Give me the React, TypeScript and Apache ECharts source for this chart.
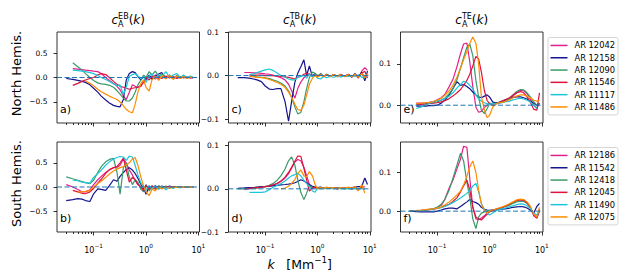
import React, { useEffect, useRef } from 'react';
import * as echarts from 'echarts';

// ---- data -----------------------------------------------------------------
const K = [0.03, 0.04, 0.05, 0.06, 0.07, 0.085, 0.1, 0.12, 0.14, 0.17, 0.2, 0.24, 0.28, 0.32, 0.37, 0.42, 0.48, 0.55, 0.62, 0.7, 0.8, 0.9, 1.0, 1.15, 1.3, 1.5, 1.75, 2.0, 2.4, 2.8, 3.3, 3.9, 4.5, 5.2, 6.0, 7.0, 8.0, 9.0];

const NORTH_NAMES = ['AR 12042', 'AR 12158', 'AR 12090', 'AR 11546', 'AR 11117', 'AR 11486'];
const SOUTH_NAMES = ['AR 12186', 'AR 11542', 'AR 12418', 'AR 12045', 'AR 11490', 'AR 12075'];
const COLORS = ['#e0218a', '#14148c', '#3a9a6a', '#dc143c', '#1cc6d8', '#ff8c00'];
const ZERO_COLOR = '#1f77b4';
const ZERO_LEVEL = 0;

const YTICKS_EB = [-0.5, 0, 0.5];
const YTICKS_TB = [-0.1, 0, 0.1];
const YTICKS_TE = [0, 0.1];
const XTICKS_MAJOR = [0.1, 1, 10];
const XTICKS_MINOR_MULT = [2, 3, 4, 5, 6, 7, 8, 9];

// EB, north (a)
const EB_N_12042 = [null, 0.18, 0.17, 0.16, 0.15, 0.14, 0.13, 0.12, 0.08, 0.0, -0.06, -0.12, -0.18, -0.25, -0.38, -0.45, -0.3, -0.15, -0.18, -0.2, -0.16, -0.1, -0.05, 0.03, -0.04, 0.05, -0.02, 0.03, -0.01, 0.02, -0.02, 0.01, 0.02, -0.01, 0.01, -0.01, 0.0, null];
const EB_N_12158 = [-0.02, -0.04, -0.06, -0.08, -0.1, -0.15, -0.22, -0.3, -0.38, -0.46, -0.52, -0.57, -0.59, -0.6, -0.45, -0.05, 0.08, 0.12, 0.1, 0.02, -0.05, 0.02, -0.04, 0.05, -0.03, 0.03, 0.07, 0.1, -0.02, 0.03, -0.02, 0.02, -0.01, 0.02, -0.01, 0.01, -0.01, null];
const EB_N_12090 = [null, 0.3, 0.22, 0.15, 0.08, 0.0, -0.06, -0.11, -0.13, -0.14, -0.16, -0.2, -0.27, -0.34, -0.42, -0.48, -0.48, -0.42, -0.3, -0.15, -0.05, 0.05, 0.0, 0.12, 0.05, 0.13, 0.02, 0.08, 0.0, 0.05, -0.02, 0.04, 0.0, 0.03, -0.01, 0.02, 0.0, null];
const EB_N_11546 = [null, -0.16, -0.12, -0.08, -0.05, -0.02, 0.0, 0.05, 0.08, 0.06, 0.0, -0.08, -0.14, -0.18, -0.2, -0.22, -0.24, -0.22, -0.21, -0.2, -0.18, -0.08, 0.0, -0.05, 0.03, -0.03, 0.02, -0.02, 0.03, -0.01, 0.02, -0.02, 0.01, 0.0, 0.01, -0.01, 0.0, null];
const EB_N_11117 = [null, 0.15, 0.14, 0.13, 0.12, 0.1, 0.08, 0.04, 0.0, -0.04, -0.08, -0.13, -0.17, -0.15, -0.35, -0.2, 0.02, 0.06, 0.08, 0.03, -0.02, 0.02, -0.1, 0.03, 0.08, -0.02, 0.05, 0.02, 0.12, 0.0, 0.05, 0.08, 0.0, 0.05, 0.0, 0.03, 0.0, null];
const EB_N_11486 = [null, null, null, null, -0.07, -0.12, -0.17, -0.24, -0.29, -0.34, -0.38, -0.42, -0.45, -0.5, -0.58, -0.65, -0.7, -0.72, -0.55, -0.3, -0.12, -0.05, -0.2, -0.28, -0.05, 0.02, -0.06, 0.04, -0.03, 0.05, -0.04, 0.03, -0.02, 0.02, -0.02, 0.01, 0.0, null];

// EB, south (b)
const EB_S_12186 = [0.05, 0.0, -0.05, -0.1, -0.1, -0.06, 0.05, 0.15, 0.22, 0.3, 0.35, 0.4, 0.41, 0.45, 0.58, 0.5, 0.35, 0.25, 0.14, 0.05, 0.0, -0.05, 0.02, -0.03, 0.02, -0.02, 0.01, 0.0, 0.01, -0.01, 0.0, 0.01, 0.0, 0.0, 0.0, 0.0, 0.0, null];
const EB_S_11542 = [-0.28, -0.26, -0.24, -0.25, -0.28, -0.3, -0.14, -0.04, -0.05, -0.07, 0.03, 0.15, 0.12, 0.22, 0.3, 0.36, 0.4, 0.35, 0.28, 0.18, 0.05, -0.02, -0.15, 0.02, -0.05, 0.03, -0.04, 0.02, -0.02, 0.02, -0.01, 0.01, 0.0, 0.01, -0.01, 0.01, 0.0, null];
const EB_S_12418 = [0.21, 0.17, 0.14, 0.11, 0.09, 0.07, 0.14, 0.3, 0.42, 0.52, 0.57, 0.59, 0.3, -0.15, 0.4, 0.5, 0.2, 0.05, 0.15, 0.1, -0.05, -0.1, 0.05, -0.08, 0.02, -0.05, 0.03, -0.03, 0.02, -0.02, 0.01, -0.01, 0.01, 0.0, 0.0, 0.0, 0.0, null];
const EB_S_12045 = [null, -0.07, -0.1, -0.13, -0.14, -0.1, -0.03, 0.08, 0.16, 0.28, 0.36, 0.4, 0.42, 0.5, 0.6, 0.35, 0.1, 0.2, 0.15, 0.05, 0.0, -0.08, 0.04, -0.05, 0.02, -0.03, 0.01, -0.02, 0.01, 0.0, 0.01, 0.0, 0.0, 0.0, 0.0, 0.0, 0.0, null];
const EB_S_11490 = [null, 0.14, 0.13, 0.1, 0.09, 0.08, 0.2, 0.28, 0.35, 0.45, 0.52, 0.58, 0.61, 0.63, 0.62, 0.55, 0.64, 0.62, 0.45, 0.25, 0.08, 0.0, -0.06, 0.03, -0.04, 0.02, -0.05, 0.01, -0.06, 0.0, -0.03, 0.01, -0.02, 0.01, 0.0, 0.0, 0.0, null];
const EB_S_12075 = [null, null, -0.1, -0.1, -0.09, -0.07, 0.0, 0.07, 0.12, 0.2, 0.27, 0.33, 0.37, 0.4, 0.42, 0.46, 0.5, 0.58, 0.61, 0.45, 0.2, 0.02, -0.1, -0.18, -0.04, -0.08, 0.0, -0.04, 0.0, -0.03, 0.0, -0.01, 0.0, 0.0, 0.0, 0.0, 0.0, null];

// TB, north (c)
const TB_N_12042 = [null, 0.007, 0.007, 0.006, 0.006, 0.005, 0.004, 0.003, 0.001, -0.002, -0.005, -0.01, -0.02, -0.035, -0.052, -0.03, -0.015, -0.005, 0.0, 0.004, 0.0, 0.002, -0.002, 0.002, -0.002, 0.002, -0.002, 0.002, -0.002, 0.003, -0.003, 0.003, -0.004, 0.004, -0.006, 0.01, 0.018, 0.012];
const TB_N_12158 = [-0.005, -0.005, -0.006, -0.008, -0.01, -0.014, -0.024, -0.031, -0.032, -0.03, -0.03, -0.06, -0.105, -0.06, -0.015, 0.005, 0.02, 0.036, 0.0, 0.022, -0.003, 0.005, -0.003, 0.004, -0.002, 0.003, -0.002, 0.002, -0.002, 0.002, -0.002, 0.002, -0.003, 0.004, -0.004, 0.008, -0.012, 0.01];
const TB_N_12090 = [null, null, null, -0.002, -0.003, -0.004, -0.005, -0.007, -0.01, -0.013, -0.017, -0.024, -0.035, -0.05, -0.072, -0.088, -0.085, -0.06, -0.03, -0.005, 0.008, 0.005, 0.0, 0.003, -0.002, 0.002, -0.002, 0.002, -0.001, 0.002, -0.002, 0.002, -0.002, 0.002, -0.003, 0.004, -0.004, null];
const TB_N_11546 = [null, null, 0.001, 0.001, 0.001, 0.001, 0.0, 0.0, 0.0, -0.001, -0.002, -0.003, -0.004, -0.006, -0.008, -0.004, -0.002, 0.003, 0.005, 0.002, 0.0, 0.001, -0.001, 0.001, -0.001, 0.001, -0.001, 0.001, -0.001, 0.001, -0.002, 0.002, -0.002, 0.003, -0.004, 0.005, 0.01, -0.006];
const TB_N_11117 = [null, null, 0.002, 0.004, 0.007, 0.01, 0.013, 0.015, 0.012, 0.006, 0.0, -0.004, -0.008, -0.01, -0.01, -0.004, -0.002, 0.0, -0.006, 0.004, -0.003, 0.002, -0.006, -0.008, -0.002, -0.005, -0.002, -0.004, -0.002, -0.003, -0.001, -0.002, 0.0, -0.002, 0.002, -0.004, -0.006, null];
const TB_N_11486 = [null, null, -0.002, -0.003, -0.004, -0.005, -0.006, -0.009, -0.012, -0.016, -0.02, -0.027, -0.038, -0.05, -0.066, -0.078, -0.08, -0.068, -0.045, -0.02, -0.006, 0.0, -0.004, 0.002, -0.003, 0.002, -0.002, 0.002, -0.002, 0.002, -0.002, 0.002, -0.002, 0.003, -0.004, 0.005, -0.005, 0.004];

// TB, south (d)
const TB_S_12186 = [null, 0.0, 0.001, 0.002, 0.003, 0.004, 0.005, 0.006, 0.008, 0.012, 0.017, 0.025, 0.035, 0.048, 0.062, 0.068, 0.065, 0.05, 0.03, 0.01, 0.0, 0.003, 0.001, 0.002, 0.001, 0.002, 0.001, 0.002, 0.001, 0.002, 0.001, 0.002, 0.0, 0.002, 0.0, 0.003, 0.005, null];
const TB_S_11542 = [0.001, 0.002, 0.003, 0.003, 0.004, 0.005, 0.005, 0.006, 0.007, 0.008, 0.009, 0.01, 0.011, 0.012, 0.014, 0.017, 0.021, 0.018, 0.014, 0.01, 0.006, 0.004, 0.003, 0.004, 0.002, 0.003, 0.002, 0.003, 0.002, 0.003, 0.002, 0.003, 0.003, 0.004, 0.005, 0.006, 0.025, 0.01];
const TB_S_12418 = [0.0, 0.0, 0.0, 0.001, 0.002, 0.003, 0.005, 0.008, 0.012, 0.02, 0.03, 0.046, 0.065, 0.074, 0.055, 0.02, -0.008, -0.025, -0.01, 0.008, 0.002, 0.004, 0.001, 0.003, 0.0, 0.002, 0.001, 0.002, 0.0, 0.002, 0.0, 0.002, 0.0, 0.002, -0.001, 0.003, 0.0, null];
const TB_S_12045 = [null, 0.0, 0.001, 0.002, 0.003, 0.004, 0.005, 0.007, 0.009, 0.013, 0.018, 0.027, 0.038, 0.05, 0.064, 0.076, 0.075, 0.048, 0.02, -0.005, 0.002, 0.004, 0.001, 0.003, 0.001, 0.002, 0.001, 0.002, 0.0, 0.002, 0.001, 0.002, 0.0, 0.002, 0.0, 0.002, 0.0, null];
const TB_S_11490 = [null, null, -0.008, -0.008, -0.008, -0.008, -0.007, -0.002, 0.003, 0.008, 0.012, 0.018, 0.025, 0.03, 0.033, 0.036, 0.03, 0.02, 0.012, 0.005, -0.005, -0.008, 0.002, 0.0, 0.002, 0.001, 0.002, 0.0, 0.002, 0.0, 0.001, 0.0, 0.001, 0.0, 0.001, 0.0, 0.0, null];
const TB_S_12075 = [null, null, null, null, null, null, null, null, null, null, 0.0, 0.002, 0.006, 0.012, 0.022, 0.035, 0.044, 0.03, 0.028, 0.04, 0.03, 0.01, 0.0, 0.003, 0.001, 0.004, 0.002, 0.003, 0.001, 0.003, 0.002, 0.004, 0.002, 0.005, -0.005, 0.01, -0.01, null];

// TE, north (e)
const TE_N_12042 = [null, 0.005, 0.005, 0.006, 0.007, 0.009, 0.013, 0.018, 0.026, 0.045, 0.062, 0.094, 0.125, 0.148, 0.15, 0.105, 0.045, -0.005, -0.017, -0.015, -0.005, 0.0, 0.005, 0.003, 0.005, 0.004, 0.008, 0.01, 0.015, 0.022, 0.03, 0.036, 0.035, 0.028, 0.015, 0.0, -0.008, 0.005];
const TE_N_12158 = [null, -0.002, -0.002, -0.002, -0.001, -0.001, 0.0, 0.005, 0.012, 0.025, 0.04, 0.057, 0.048, 0.05, 0.045, 0.04, 0.032, 0.025, 0.02, 0.018, 0.022, 0.025, 0.02, 0.008, 0.005, 0.007, 0.01, 0.013, 0.016, 0.019, 0.02, 0.02, 0.018, 0.015, 0.01, 0.005, 0.0, 0.004];
const TE_N_12090 = [null, null, 0.003, 0.004, 0.005, 0.006, 0.008, 0.012, 0.017, 0.028, 0.04, 0.062, 0.09, 0.115, 0.14, 0.148, 0.12, 0.06, 0.02, -0.012, -0.02, -0.008, 0.003, 0.005, 0.004, 0.006, 0.008, 0.01, 0.016, 0.025, 0.033, 0.038, 0.037, 0.03, 0.02, 0.008, 0.0, 0.005];
const TE_N_11546 = [null, 0.002, 0.002, 0.003, 0.004, 0.005, 0.006, 0.008, 0.011, 0.016, 0.022, 0.03, 0.038, 0.048, 0.06, 0.075, 0.095, 0.118, 0.112, 0.08, 0.035, 0.012, 0.003, 0.0, 0.003, 0.006, 0.01, 0.013, 0.018, 0.024, 0.03, 0.033, 0.03, 0.02, 0.008, -0.01, -0.012, 0.03];
const TE_N_11117 = [null, -0.008, -0.004, 0.0, 0.004, 0.008, 0.011, 0.013, 0.016, 0.022, 0.03, 0.042, 0.05, 0.058, 0.055, 0.048, 0.04, 0.025, 0.015, 0.01, 0.006, 0.004, 0.002, 0.004, 0.003, 0.005, 0.006, 0.008, 0.01, 0.013, 0.015, 0.017, 0.015, 0.012, 0.008, 0.0, -0.008, null];
const TE_N_11486 = [null, 0.004, 0.005, 0.006, 0.007, 0.009, 0.012, 0.017, 0.024, 0.035, 0.048, 0.068, 0.09, 0.11, 0.13, 0.15, 0.165, 0.15, 0.1, 0.02, -0.012, -0.03, -0.025, -0.005, 0.002, 0.006, 0.007, 0.009, 0.013, 0.018, 0.022, 0.025, 0.025, 0.022, 0.018, 0.012, 0.01, 0.012];

// TE, south (f)
const TE_S_12186 = [0.0, 0.001, 0.002, 0.003, 0.004, 0.006, 0.009, 0.015, 0.03, 0.06, 0.08, 0.11, 0.135, 0.168, 0.165, 0.085, 0.01, -0.02, -0.022, -0.018, -0.012, -0.005, 0.0, 0.002, 0.004, 0.006, 0.009, 0.012, 0.017, 0.022, 0.027, 0.03, 0.029, 0.022, 0.01, -0.012, -0.018, 0.005];
const TE_S_11542 = [0.0, -0.001, -0.002, -0.002, -0.002, -0.002, 0.0, 0.003, 0.006, 0.008, 0.008, 0.006, 0.012, 0.018, 0.024, 0.03, 0.025, 0.022, 0.018, 0.01, 0.005, 0.003, 0.002, 0.003, 0.003, 0.004, 0.005, 0.006, 0.008, 0.01, 0.011, 0.012, 0.011, 0.008, 0.003, -0.005, 0.012, 0.02];
const TE_S_12418 = [0.0, 0.001, 0.002, 0.003, 0.004, 0.006, 0.01, 0.018, 0.03, 0.055, 0.085, 0.12, 0.15, 0.13, 0.075, 0.035, -0.02, -0.045, -0.015, -0.005, -0.002, 0.0, 0.002, 0.003, 0.005, 0.007, 0.01, 0.012, 0.015, 0.02, 0.024, 0.026, 0.025, 0.02, 0.01, -0.008, -0.015, 0.0];
const TE_S_12045 = [null, 0.001, 0.002, 0.003, 0.004, 0.005, 0.007, 0.01, 0.013, 0.018, 0.025, 0.035, 0.05, 0.065, 0.08, 0.055, 0.01, -0.015, -0.02, -0.023, -0.015, -0.008, -0.002, 0.002, 0.005, 0.007, 0.01, 0.013, 0.018, 0.023, 0.028, 0.03, 0.028, 0.022, 0.01, -0.01, -0.018, 0.0];
const TE_S_11490 = [null, 0.001, 0.002, 0.003, 0.004, 0.005, 0.007, 0.009, 0.012, 0.017, 0.022, 0.028, 0.034, 0.04, 0.046, 0.054, 0.065, 0.072, 0.05, 0.02, 0.005, -0.005, -0.01, -0.005, 0.0, 0.004, 0.006, 0.008, 0.011, 0.014, 0.017, 0.019, 0.018, 0.014, 0.007, -0.005, -0.01, 0.0];
const TE_S_12075 = [null, 0.002, 0.003, 0.004, 0.005, 0.006, 0.008, 0.011, 0.016, 0.024, 0.032, 0.042, 0.052, 0.068, 0.09, 0.115, 0.13, 0.1, 0.055, 0.018, 0.002, -0.005, 0.0, 0.003, 0.005, 0.008, 0.011, 0.014, 0.019, 0.024, 0.029, 0.031, 0.03, 0.024, 0.013, -0.008, -0.015, 0.01];

// ---- layout ---------------------------------------------------------------
const FONT = 'DejaVu Sans';
const XMIN = 0.02;
const XMAX = 10.5;
const GRID_LEFT = [57, 228.5, 400.5];
const GRID_W = 142.5;
const ROW_TOP = [32, 142];
const ROW_H = [91, 90];

const PANELS = [
  { tag: 'a)', row: 0, col: 0, names: NORTH_NAMES, data: [EB_N_12042, EB_N_12158, EB_N_12090, EB_N_11546, EB_N_11117, EB_N_11486], ymin: -0.93, ymax: 0.93, yticks: YTICKS_EB },
  { tag: 'c)', row: 0, col: 1, names: NORTH_NAMES, data: [TB_N_12042, TB_N_12158, TB_N_12090, TB_N_11546, TB_N_11117, TB_N_11486], ymin: -0.109, ymax: 0.1, yticks: YTICKS_TB },
  { tag: 'e)', row: 0, col: 2, names: NORTH_NAMES, data: [TE_N_12042, TE_N_12158, TE_N_12090, TE_N_11546, TE_N_11117, TE_N_11486], ymin: -0.043, ymax: 0.177, yticks: YTICKS_TE },
  { tag: 'b)', row: 1, col: 0, names: SOUTH_NAMES, data: [EB_S_12186, EB_S_11542, EB_S_12418, EB_S_12045, EB_S_11490, EB_S_12075], ymin: -0.93, ymax: 0.93, yticks: YTICKS_EB },
  { tag: 'd)', row: 1, col: 1, names: SOUTH_NAMES, data: [TB_S_12186, TB_S_11542, TB_S_12418, TB_S_12045, TB_S_11490, TB_S_12075], ymin: -0.1, ymax: 0.1085, yticks: YTICKS_TB },
  { tag: 'f)', row: 1, col: 2, names: SOUTH_NAMES, data: [TE_S_12186, TE_S_11542, TE_S_12418, TE_S_12045, TE_S_11490, TE_S_12075], ymin: -0.054, ymax: 0.179, yticks: YTICKS_TE },
];

const MINUS = '\u2212';
const fmtY = (v: number) => (Math.abs(v) < 1e-9 ? '0.0' : (v < 0 ? MINUS : '') + Math.abs(v).toFixed(1));

type Piece = { t: string; s: number; i?: boolean; dy?: number };
type Part = Piece | { gap: number } | { stack: Piece[] };

function buildMath(parts: Part[], cx: number, base: number) {
  const ctx = document.createElement('canvas').getContext('2d') as CanvasRenderingContext2D;
  const measure = (p: Piece) => {
    ctx.font = `${p.i ? 'italic ' : ''}${p.s}px "${FONT}"`;
    return ctx.measureText(p.t).width;
  };
  const widths = parts.map((p: any) => ('gap' in p ? p.gap : 'stack' in p ? Math.max(...p.stack.map(measure)) : measure(p)));
  const total = widths.reduce((a, b) => a + b, 0);
  let x = cx - total / 2;
  const els: any[] = [];
  parts.forEach((p: any, idx) => {
    const items: Piece[] = 'gap' in p ? [] : 'stack' in p ? p.stack : [p];
    items.forEach((q) => {
      els.push({
        type: 'text',
        silent: true,
        x,
        y: base + (q.dy || 0) - 0.35 * q.s,
        style: {
          text: q.t,
          fontSize: q.s,
          fontFamily: FONT,
          fontStyle: q.i ? 'italic' : 'normal',
          fill: '#000',
          align: 'left',
          verticalAlign: 'middle',
        },
      });
    });
    x += widths[idx];
  });
  return els;
}

function buildOption() {
  const lxmin = Math.log10(XMIN);
  const lxmax = Math.log10(XMAX);
  const majorLog = XTICKS_MAJOR.map((v) => Math.log10(v));
  const minorLog: number[] = [];
  [-2, -1, 0].forEach((d) => XTICKS_MINOR_MULT.forEach((m) => {
    const lv = Math.log10(m * Math.pow(10, d));
    if (lv > lxmin && lv < lxmax) minorLog.push(lv);
  }));

  const grid: any[] = [];
  const xAxis: any[] = [];
  const yAxis: any[] = [];
  const series: any[] = [];
  const graphic: any[] = [];
  const tickLine = { color: '#000', width: 0.8 };

  PANELS.forEach((p, i) => {
    const left = GRID_LEFT[p.col];
    const top = ROW_TOP[p.row];
    const h = ROW_H[p.row];
    grid.push({ left, top, width: GRID_W, height: h, show: true, borderColor: '#000', borderWidth: 0.8, backgroundColor: 'transparent', containLabel: false });

    xAxis.push({ type: 'log', logBase: 10, gridIndex: i, min: XMIN, max: XMAX, show: false });
    xAxis.push({
      type: 'value', gridIndex: i, min: lxmin, max: lxmax, position: 'bottom',
      axisLine: { show: false, onZero: false }, splitLine: { show: false },
      axisTick: { show: true, customValues: majorLog, length: 3.5, lineStyle: tickLine },
      axisLabel: {
        show: p.row === 1, customValues: majorLog, margin: 11,
        formatter: (v: number) => {
          const e = Math.round(v);
          return `{b|10}{s|${e < 0 ? MINUS : ''}${Math.abs(e)}}`;
        },
        rich: {
          b: { fontSize: 8, fontFamily: FONT, color: '#000', lineHeight: 11, verticalAlign: 'bottom' },
          s: { fontSize: 5.8, fontFamily: FONT, color: '#000', lineHeight: 5, verticalAlign: 'top' },
        },
      },
    });
    xAxis.push({
      type: 'value', gridIndex: i, min: lxmin, max: lxmax, position: 'bottom',
      axisLine: { show: false, onZero: false }, splitLine: { show: false },
      axisTick: { show: true, customValues: minorLog, length: 2, lineStyle: tickLine },
      axisLabel: { show: false },
    });

    yAxis.push({
      type: 'value', gridIndex: i, min: p.ymin, max: p.ymax,
      axisLine: { show: false, onZero: false }, splitLine: { show: false },
      axisTick: { show: true, customValues: p.yticks, length: 3.5, lineStyle: tickLine },
      axisLabel: { customValues: p.yticks, formatter: fmtY, fontSize: 7.5, fontFamily: FONT, color: '#000', margin: 9.5 },
    });

    p.data.forEach((vals, j) => {
      series.push({
        type: 'line', name: p.names[j], xAxisIndex: 3 * i, yAxisIndex: i,
        data: K.map((k, idx) => [k, vals[idx]]).filter((d) => d[1] !== null && d[1] !== undefined),
        symbol: 'none', showSymbol: false, silent: true,
        lineStyle: { width: 1.2, color: COLORS[j] }, itemStyle: { color: COLORS[j] },
      });
    });

    // dashed zero reference line across the full x range
    series.push({
      type: 'line', name: 'zero', xAxisIndex: 3 * i, yAxisIndex: i,
      data: [[XMIN, ZERO_LEVEL], [XMAX, ZERO_LEVEL]],
      symbol: 'none', showSymbol: false, silent: true, z: 4,
      lineStyle: { width: 1, color: ZERO_COLOR, type: [5, 2.5] }, itemStyle: { color: ZERO_COLOR },
    });

    graphic.push({
      type: 'text', silent: true, x: left + 3, y: top + h - 9.5 - 0.35 * 11,
      style: { text: p.tag, fontSize: 11, fontFamily: FONT, fill: '#000', align: 'left', verticalAlign: 'middle' },
    });
  });

  // titles
  const titleSup = ['EB', 'TB', 'TE'];
  titleSup.forEach((sup, c) => {
    const cx = GRID_LEFT[c] + GRID_W / 2;
    graphic.push(...buildMath([
      { t: 'c', s: 12, i: true },
      { stack: [{ t: sup, s: 8, dy: -5.6 }, { t: 'A', s: 8, dy: 2.6 }] },
      { t: '(', s: 12 },
      { t: 'k', s: 12, i: true },
      { t: ')', s: 12 },
    ], cx, 24.5));
  });

  // x label
  graphic.push(...buildMath([
    { t: 'k', s: 12.5, i: true },
    { gap: 11.5 },
    { t: '[Mm', s: 12.5 },
    { t: MINUS + '1', s: 8.75, dy: -5.5 },
    { t: ']', s: 12.5 },
  ], GRID_LEFT[1] + GRID_W / 2, 268.5));

  // y labels
  [['North Hemis.', 73.5], ['South Hemis.', 183.5]].forEach(([t, y]) => {
    graphic.push({
      type: 'text', silent: true, x: 16, y: y as number, rotation: Math.PI / 2,
      style: { text: t as string, fontSize: 13, fontFamily: FONT, fill: '#000', align: 'center', verticalAlign: 'middle' },
    });
  });

  const legendCommon = {
    orient: 'vertical', left: 548, icon: 'rect', itemWidth: 17, itemHeight: 1.5, itemGap: 0,
    padding: [1.8, 3, 1.8, 2.5], selectedMode: false,
    backgroundColor: 'rgba(255,255,255,0.8)', borderColor: '#cccccc', borderWidth: 0.8, borderRadius: 2,
    textStyle: { fontSize: 8.3, fontFamily: FONT, color: '#000', lineHeight: 12.3, padding: [0, 0, 0, 2] },
  };

  return {
    animation: false,
    textStyle: { fontFamily: FONT },
    grid, xAxis, yAxis, series, graphic,
    legend: [
      { ...legendCommon, top: 37.5, data: NORTH_NAMES },
      { ...legendCommon, top: 147.5, data: SOUTH_NAMES },
    ],
  };
}

export default function App() {
  const ref = useRef<HTMLDivElement>(null);
  useEffect(() => {
    if (!ref.current) return;
    const chart = echarts.init(ref.current, undefined, { renderer: 'svg' });
    chart.setOption(buildOption() as any);
    return () => chart.dispose();
  }, []);
  return <div ref={ref} style={{ position: 'fixed', left: 0, top: 0, width: 624, height: 277, background: '#fff' }} />;
}
